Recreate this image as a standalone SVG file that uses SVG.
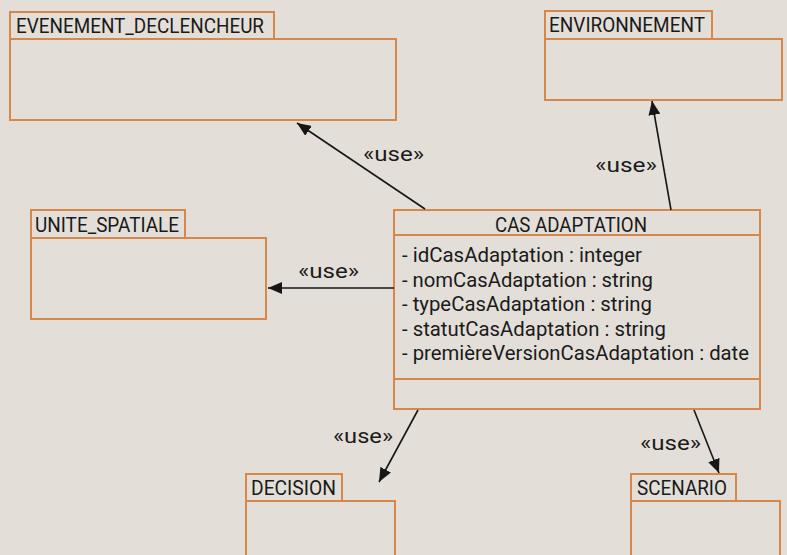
<svg xmlns="http://www.w3.org/2000/svg" width="787" height="555" viewBox="0 0 787 555">
<defs>
<marker id="arr" viewBox="0 0 14 12" refX="14" refY="6" markerWidth="14" markerHeight="12" markerUnits="userSpaceOnUse" orient="auto">
<path d="M0,0 L14,6 L0,12 Z" fill="#161616"/>
</marker>
<style>
.box{fill:none;stroke:#d8874a;stroke-width:2}
.t{font-family:Roboto,"Open Sans","Liberation Sans",sans-serif;font-size:20px;fill:#1a1a1a}
.lbl{font-family:Roboto,"Open Sans","Liberation Sans",sans-serif;font-size:20px;fill:#1a1a1a}
.c{stroke:#161616;stroke-width:1.6;fill:none;marker-end:url(#arr)}
</style>
</defs>
<rect width="787" height="555" fill="#e3dfd8"/>
<g id="evenement">
<rect class="box" x="10" y="12" width="264" height="27"/>
<rect class="box" x="10" y="39" width="386" height="81"/>
<text class="t" x="16" y="33" textLength="248" lengthAdjust="spacingAndGlyphs">EVENEMENT_DECLENCHEUR</text>
</g>
<g id="environnement">
<rect class="box" x="545" y="11" width="167" height="28"/>
<rect class="box" x="545" y="39" width="237" height="61"/>
<text class="t" x="549" y="32" textLength="156" lengthAdjust="spacingAndGlyphs">ENVIRONNEMENT</text>
</g>
<g id="unite">
<rect class="box" x="31" y="210" width="154" height="28"/>
<rect class="box" x="31" y="238" width="235" height="81"/>
<text class="t" x="35" y="232" textLength="144" lengthAdjust="spacingAndGlyphs">UNITE_SPATIALE</text>
</g>
<g id="cas">
<rect class="box" x="394" y="210" width="366" height="199"/>
<line class="box" x1="394" y1="235" x2="760" y2="235"/>
<line class="box" x1="394" y1="379" x2="760" y2="379"/>
<text class="t" x="495" y="232" textLength="152" lengthAdjust="spacingAndGlyphs">CAS ADAPTATION</text>
<text class="t" x="402" y="262" textLength="240" lengthAdjust="spacingAndGlyphs">- idCasAdaptation : integer</text>
<text class="t" x="402" y="286.5" textLength="251" lengthAdjust="spacingAndGlyphs">- nomCasAdaptation : string</text>
<text class="t" x="402" y="311" textLength="250" lengthAdjust="spacingAndGlyphs">- typeCasAdaptation : string</text>
<text class="t" x="402" y="335.5" textLength="264" lengthAdjust="spacingAndGlyphs">- statutCasAdaptation : string</text>
<text class="t" x="402" y="360" textLength="347" lengthAdjust="spacingAndGlyphs">- premièreVersionCasAdaptation : date</text>
</g>
<g id="decision">
<rect class="box" x="246" y="474" width="96" height="27"/>
<rect class="box" x="246" y="501" width="149" height="60"/>
<text class="t" x="251" y="495" textLength="85" lengthAdjust="spacingAndGlyphs">DECISION</text>
</g>
<g id="scenario">
<rect class="box" x="631" y="474" width="105" height="27"/>
<rect class="box" x="631" y="501" width="149" height="60"/>
<text class="t" x="637" y="495" textLength="90" lengthAdjust="spacingAndGlyphs">SCENARIO</text>
</g>
<g id="connectors">
<line class="c" x1="425" y1="209" x2="297" y2="123"/>
<line class="c" x1="671" y1="210" x2="652" y2="101"/>
<line class="c" x1="394" y1="288" x2="268" y2="288"/>
<line class="c" x1="418" y1="410" x2="379" y2="482"/>
<line class="c" x1="694" y1="410" x2="719" y2="473"/>
<text class="lbl" x="363" y="161" textLength="61" lengthAdjust="spacingAndGlyphs">«use»</text>
<text class="lbl" x="595" y="172" textLength="62" lengthAdjust="spacingAndGlyphs">«use»</text>
<text class="lbl" x="298" y="278" textLength="61" lengthAdjust="spacingAndGlyphs">«use»</text>
<text class="lbl" x="333" y="443" textLength="60" lengthAdjust="spacingAndGlyphs">«use»</text>
<text class="lbl" x="640" y="450" textLength="61" lengthAdjust="spacingAndGlyphs">«use»</text>
</g>
</svg>
